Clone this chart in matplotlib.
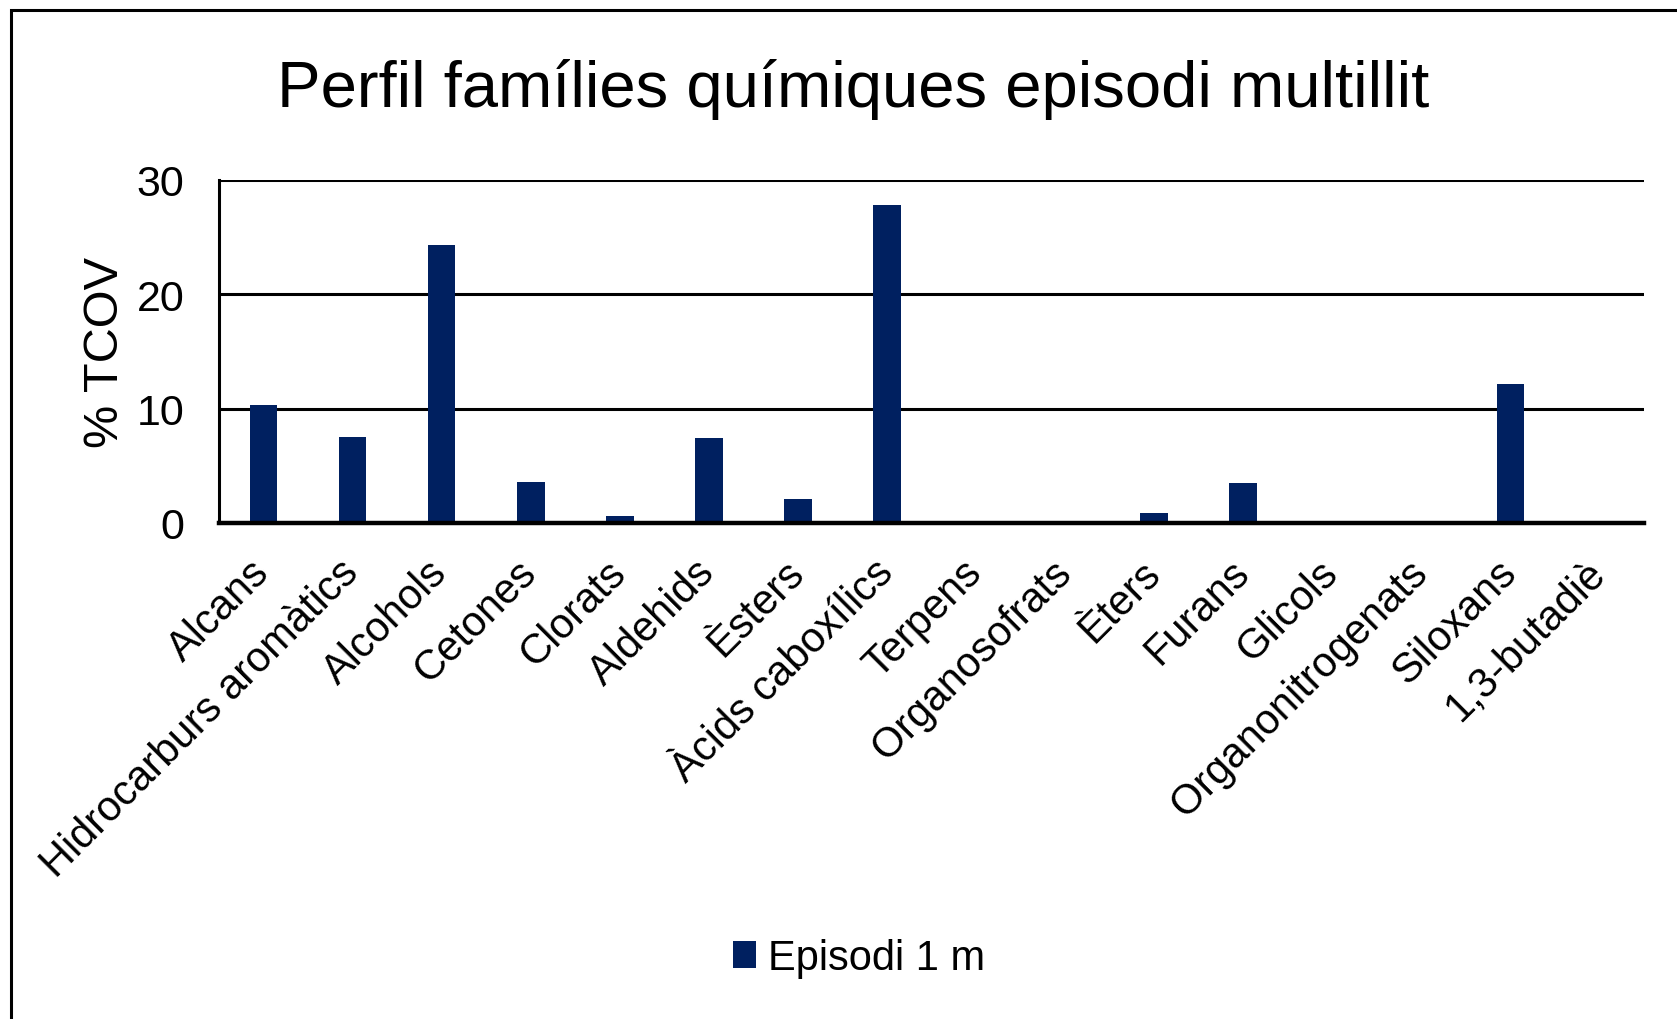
import matplotlib
matplotlib.use("Agg")
import matplotlib.pyplot as plt
from matplotlib.patches import Rectangle

plt.rcParams['font.family'] = ['Liberation Sans', 'DejaVu Sans']

families = ['Alcans', 'Hidrocarburs aromàtics', 'Alcohols', 'Cetones', 'Clorats',
            'Aldehids', 'Èsters', 'Àcids caboxílics', 'Terpens', 'Organosofrats',
            'Èters', 'Furans', 'Glicols', 'Organonitrogenats', 'Siloxans', '1,3-butadiè']
episodi_1m = [10.3, 7.5, 24.3, 3.6, 0.65, 7.4, 2.1, 27.85, 0, 0,
              0.85, 3.5, 0, 0, 12.2, 0]

W, H = 1677, 1020
fig = plt.figure(figsize=(W / 100, H / 100), dpi=100)
ax = fig.add_axes([219 / W, 1 - 524 / H, (1644 - 219) / W, (524 - 181) / H])

x = range(len(families))
ax.bar(x, episodi_1m, width=0.31, color='#002060', label='Episodi 1 m', zorder=3)

ax.set_xlim(-0.5, len(families) - 0.5)
ax.set_ylim(0, 30)
ax.set_yticks([0, 10, 20, 30])
ax.yaxis.grid(True, color='black', linewidth=2.2, zorder=0)
ax.set_axisbelow(True)
for s in ['top', 'right']:
    ax.spines[s].set_visible(False)
ax.spines['left'].set_linewidth(2.2)
ax.spines['bottom'].set_linewidth(3.2)
ax.spines['bottom'].set_zorder(4)
ax.tick_params(axis='y', length=0, labelsize=31, pad=25)

ax.set_xticks(list(x))
ax.set_xticklabels(families, rotation=45, ha='right', va='center',
                   rotation_mode='anchor', fontsize=30)
ax.tick_params(axis='x', length=0, pad=31)
ax.set_ylabel('% TCOV', fontsize=35, labelpad=6)

fig.text(853 / W, 1 - 90 / H, 'Perfil famílies químiques episodi multillit',
         ha='center', va='center', fontsize=47)

fig.legend(loc='center', bbox_to_anchor=(859 / W, 1 - 959 / H), frameon=False,
           fontsize=30, handlelength=0.55, handleheight=0.6, handletextpad=0.3)

fig.patches.append(Rectangle((11 / W, -0.1), 1.2, 1 - 11 / H + 0.1,
                             transform=fig.transFigure, fill=False,
                             edgecolor='black', linewidth=2.2))

fig.savefig('out.png', dpi=100)
